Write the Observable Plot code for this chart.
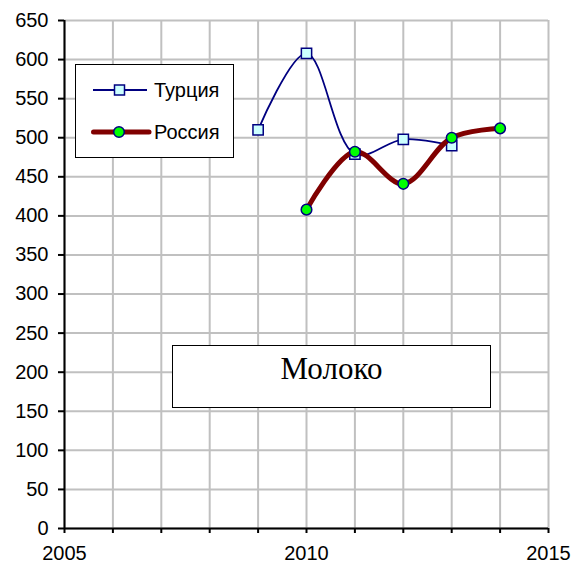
<!DOCTYPE html>
<html>
<head>
<meta charset="utf-8">
<script src="https://cdn.jsdelivr.net/npm/d3@7"></script>
<script src="https://cdn.jsdelivr.net/npm/@observablehq/plot@0.6"></script>
<style>
  html, body { margin: 0; padding: 0; background: #fff; }
  #wrap { position: relative; width: 575px; height: 566px; }
  #legend { position: absolute; left: 75px; top: 64px; width: 157px; height: 92px;
    border: 1.5px solid #000; background: #fff; font-family: "Liberation Sans", Arial, sans-serif; font-size: 20px; }
  .item { position: absolute; left: 0; height: 24px; display: flex; align-items: center; }
  .item svg { margin-left: 14px; }
  .item span { margin-left: 6px; color: #000; }
  #title { position: absolute; left: 172px; top: 345px; width: 317px; height: 61px;
    border: 1.5px solid #000; background: #fff; font-family: "Liberation Serif", "Times New Roman", serif;
    font-size: 31px; text-align: center; line-height: 46px; }
</style>
</head>
<body>
<div id="wrap"></div>
<script>
const turkeyName = "Турция";
const russiaName = "Россия";
const chartTitle = "Молоко";
const turkeyYears = [2009, 2010, 2011, 2012, 2013];
const turkeyValues = [510, 608, 479, 498, 490];
const russiaYears = [2010, 2011, 2012, 2013, 2014];
const russiaValues = [408, 482, 441, 500, 512];
const xTicks = [2005, 2006, 2007, 2008, 2009, 2010, 2011, 2012, 2013, 2014, 2015];
const xLabels = [2005, 2010, 2015];
const yTicks = [0, 50, 100, 150, 200, 250, 300, 350, 400, 450, 500, 550, 600, 650];

const turkey = turkeyYears.map((y, i) => ({year: y, value: turkeyValues[i]}));
const russia = russiaYears.map((y, i) => ({year: y, value: russiaValues[i]}));

const navy = "#000080", maroon = "#800000";
const gridStyle = {stroke: "#c0c0c0", strokeOpacity: 1, strokeWidth: 2};

const chart = Plot.plot({
  width: 575, height: 566,
  marginLeft: 64, marginRight: 27, marginTop: 20, marginBottom: 38,
  x: {domain: [2005, 2015]},
  y: {domain: [0, 650]},
  style: {fontFamily: "'Liberation Sans', Arial, sans-serif", fontSize: "20px", color: "#000", background: "#fff"},
  marks: [
    Plot.gridX(xTicks, gridStyle),
    Plot.gridY(yTicks, gridStyle),
    Plot.axisX(xTicks, {tickSize: 5, tickPadding: 12, strokeWidth: 2, strokeOpacity: 1,
      tickFormat: d => xLabels.includes(d) ? String(d) : "", label: null}),
    Plot.axisY(yTicks, {tickSize: 6, tickPadding: 10, strokeWidth: 2, strokeOpacity: 1, label: null}),
    Plot.ruleX([2005], {stroke: "#000", strokeWidth: 2}),
    Plot.ruleY([0], {stroke: "#000", strokeWidth: 2}),
    Plot.line(turkey, {x: "year", y: "value", stroke: navy, strokeWidth: 1.8, curve: "catmull-rom"}),
    Plot.dot(turkey, {x: "year", y: "value", symbol: "square", r: 5.8, fill: "#ccffff", stroke: navy, strokeWidth: 1.5}),
    Plot.line(russia, {x: "year", y: "value", stroke: maroon, strokeWidth: 5, curve: "catmull-rom"}),
    Plot.dot(russia, {x: "year", y: "value", r: 5.3, fill: "#00ff00", stroke: navy, strokeWidth: 1.5})
  ]
});

const wrap = document.getElementById("wrap");
wrap.appendChild(chart);

const legend = document.createElement("div");
legend.id = "legend";
legend.innerHTML = `
  <div class="item" style="top:13px">
    <svg width="58" height="14"><line x1="3" y1="7" x2="57" y2="7" stroke="${navy}" stroke-width="1.8"/>
    <rect x="24.5" y="2" width="10" height="10" fill="#ccffff" stroke="${navy}" stroke-width="1.5"/></svg>
    <span>${turkeyName}</span></div>
  <div class="item" style="top:55px">
    <svg width="62" height="14"><line x1="3.5" y1="7" x2="59" y2="7" stroke="${maroon}" stroke-width="5" stroke-linecap="round"/>
    <circle cx="29" cy="7" r="5.3" fill="#00ff00" stroke="${navy}" stroke-width="1.5"/></svg>
    <span style="margin-left:2px">${russiaName}</span></div>`;
wrap.appendChild(legend);

const title = document.createElement("div");
title.id = "title";
title.textContent = chartTitle;
wrap.appendChild(title);
</script>
</body>
</html>
